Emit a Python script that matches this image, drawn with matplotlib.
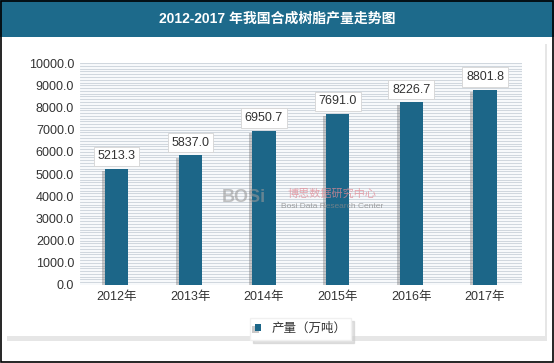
import matplotlib.pyplot as plt
import matplotlib.patheffects as pe
from matplotlib.patches import Rectangle
import numpy as np

plt.rcParams['font.family'] = ['Liberation Sans', 'Noto Sans CJK SC', 'DejaVu Sans']

years = ["2012年", "2013年", "2014年", "2015年", "2016年", "2017年"]
output = [5213.3, 5837.0, 6950.7, 7691.0, 8226.7, 8801.8]
yticks = [0, 1000, 2000, 3000, 4000, 5000, 6000, 7000, 8000, 9000, 10000]

bar_color = "#1c6688"
title_color = "#1d6a8b"

fig = plt.figure(figsize=(5.54, 3.63), dpi=100)

# title bar
fig.add_artist(Rectangle((0, 0.898), 1, 0.102, transform=fig.transFigure,
                         facecolor=title_color, edgecolor="none", zorder=-10))
fig.text(0.5, 0.949, "2012-2017 年我国合成树脂产量走势图", color="white",
         fontsize=10, fontweight="bold", ha="center", va="center")

# panel shadow
fig.add_artist(Rectangle((0.012, 0.06), 0.976, 0.82, transform=fig.transFigure,
                         facecolor="#e6e6e6", edgecolor="none", zorder=-10))
fig.add_artist(Rectangle((0.008, 0.075), 0.976, 0.81, transform=fig.transFigure,
                         facecolor="white", edgecolor="none", zorder=-9))

# outer border
fig.add_artist(Rectangle((0.001, 0.002), 0.997, 0.996, transform=fig.transFigure,
                         facecolor="none", edgecolor="black", lw=1.2, zorder=10))

ax = fig.add_axes([0.144, 0.215, 0.798, 0.611])
ax.set_facecolor("#f7f9fb")
x = np.arange(len(years))

# striped background
for yy in np.arange(0, 10001, 125):
    ax.axhline(yy, color="#c9d1d9", lw=0.6, zorder=0)

bars = ax.bar(x, output, width=0.32, color=bar_color, zorder=3,
              path_effects=[pe.SimplePatchShadow(offset=(-2, -1.5), shadow_rgbFace="#666666", alpha=0.35),
                            pe.Normal()])

for xi, v in zip(x, output):
    ax.annotate(f"{v:.1f}", (xi, v), xytext=(0, 5), textcoords="offset points",
                ha="center", va="bottom", fontsize=9, color="#333333", zorder=5,
                bbox=dict(boxstyle="square,pad=0.3", fc="white", ec="#d4d4d4", lw=0.6))

ax.set_xlim(-0.5, len(years) - 0.5)
ax.set_ylim(0, 10000)
ax.set_yticks(yticks)
ax.set_yticklabels([f"{t:.1f}" for t in yticks], fontsize=9, color="#333333")
ax.set_xticks(x)
ax.set_xticklabels(years, fontsize=9, color="#333333")
ax.tick_params(length=0, pad=4)
for s in ax.spines.values():
    s.set_visible(False)

# watermark
fig.text(0.44, 0.455, "BOSi", fontsize=13, fontweight="bold", color="#999999", alpha=0.6,
         ha="center", va="center", zorder=6)
fig.text(0.6, 0.468, "博思数据研究中心", fontsize=8, color="#e28a95", alpha=0.75,
         ha="center", va="center", zorder=6)
fig.text(0.6, 0.432, "Bosi Data Research Center", fontsize=6, color="#888888", alpha=0.75,
         ha="center", va="center", zorder=6)

leg = ax.legend([bars], ["产量（万吨）"], loc="upper center", bbox_to_anchor=(0.5, -0.12),
                frameon=True, fontsize=9, handlelength=0.5, handleheight=0.5,
                fancybox=False, shadow={"color": "#cccccc", "alpha": 0.6}, edgecolor="#f0f0f0")
for t in leg.get_texts():
    t.set_color("#333333")

fig.savefig("out.png", dpi=100)
